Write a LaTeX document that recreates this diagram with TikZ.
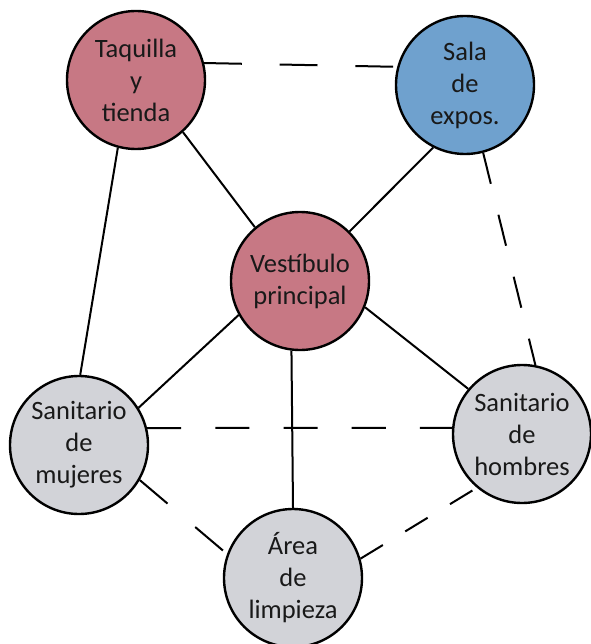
\documentclass[tikz,border=0pt]{standalone}
\usepackage{fontspec}
\setmainfont{Carlito}
\usetikzlibrary{calc}

\definecolor{roseroom}{RGB}{199,120,132}
\definecolor{blueroom}{RGB}{111,161,206}
\definecolor{grayroom}{RGB}{210,211,216}

\tikzset{
  room/.style={circle,draw=black,line width=2.4pt,minimum size=138pt,inner sep=0pt,
    align=center,text=black!90,font=\fontsize{26.5}{32}\selectfont},
  link/.style={line width=2pt},
  gaplink/.style={line width=2pt,dash pattern=on #1 off #1}
}

\begin{document}
\begin{tikzpicture}[x=1pt,y=-1pt]
\useasboundingbox (0,0) rectangle (590,644);
% rooms
\node[room,fill=roseroom] (taquilla) at (136,80) {Taquilla\\y\\tienda};
\node[room,fill=blueroom] (sala) at (465,85) {Sala\\de\\expos.};
\node[room,fill=roseroom] (vestibulo) at (300,281) {Vest\'ibulo\\principal};
\node[room,fill=grayroom] (mujeres) at (79,445) {Sanitario\\de\\mujeres};
\node[room,fill=grayroom] (hombres) at (522,434) {Sanitario\\de\\hombres};
\node[room,fill=grayroom] (limpieza) at (293,578) {\'Area\\de\\limpieza};
% solid links
\draw[link] (taquilla.-48) -- (vestibulo.130);
\draw[link] (sala.-117) -- (vestibulo.45);
\draw[link] (taquilla.-105) -- (mujeres.89);
\draw[link] (vestibulo.-151) -- (mujeres.32);
\draw[link] (vestibulo.-22) -- (hombres.140);
\draw[link] (vestibulo.-97) -- (limpieza.90);
% dashed links
\draw[gaplink=37.8pt] (taquilla.14) -- (sala.165);
\draw[gaplink=31.9pt] (sala.-75) -- (hombres.79);
\draw[gaplink=34.1pt] (mujeres.14) -- (hombres.175);
\draw[gaplink=36.3pt] (mujeres.-30) -- (limpieza.160);
\draw[gaplink=26.2pt] (limpieza.16) -- (hombres.-130);
\end{tikzpicture}
\end{document}
